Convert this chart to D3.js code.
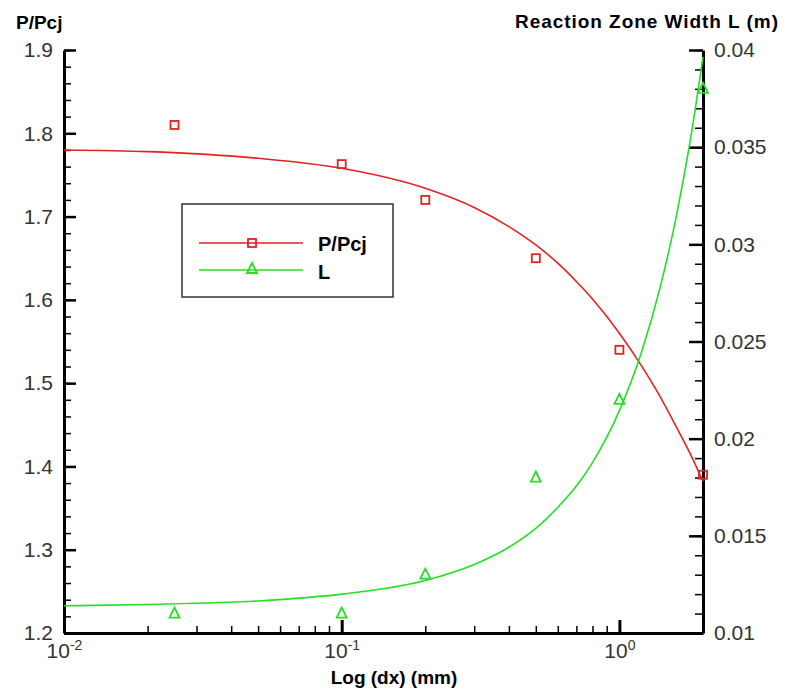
<!DOCTYPE html>
<html>
<head>
<meta charset="utf-8">
<script src="https://cdn.jsdelivr.net/npm/d3@7"></script>
<style>
  body { margin: 0; background: #fff; }
  text { font-family: "Liberation Sans", Arial, sans-serif; }
</style>
</head>
<body>
<svg id="chart" width="786" height="693"></svg>
<script>

// measured points
var dx = [0.025, 0.1, 0.2, 0.5, 1.0, 2.0]
var pRatio = [1.81, 1.763, 1.72, 1.65, 1.54, 1.39]
var zoneWidth = [0.011, 0.011, 0.013, 0.018, 0.022, 0.038]

// fitted curves
var fitDx = [0.01, 0.02, 0.05, 0.1, 0.2, 0.3, 0.4, 0.5, 0.6, 0.7, 0.8, 1.0, 1.2, 1.4, 1.6, 1.8, 2.0]
var fitP = [1.780, 1.778, 1.770, 1.758, 1.734, 1.711, 1.688, 1.666, 1.644, 1.622, 1.601, 1.560, 1.521, 1.484, 1.448, 1.415, 1.382]
var fitL = [0.0114, 0.01147, 0.01165, 0.0120, 0.0127, 0.01352, 0.01441, 0.01538, 0.01647, 0.01756, 0.01877, 0.02144, 0.02443, 0.02775, 0.03139, 0.03535, 0.03964]

var leftTicks = [1.2, 1.3, 1.4, 1.5, 1.6, 1.7, 1.8, 1.9]
var rightTicks = [0.01, 0.015, 0.02, 0.025, 0.03, 0.035, 0.04]
var xMajor = [0.01, 0.1, 1]
var xLabels = ["-2", "-1", "0"]

var RED = "#e32222"
var GREEN = "#22e022"

var svg = d3.select("#chart")

var x = d3.scaleLog().domain([0.01, 2]).range([64, 703])
var yL = d3.scaleLinear().domain([1.2, 1.9]).range([633, 50])
var yR = d3.scaleLinear().domain([0.01, 0.04]).range([633, 50])

function styleAxis(g, width) {
    g.select(".domain").attr("stroke", "#000").attr("stroke-width", width)
    g.selectAll(".tick line").attr("stroke", "#000")
    g.selectAll(".tick text")
        .attr("fill", "#333")
        .style("font-size", "21px")
        .style("font-family", "'Liberation Sans', Arial, sans-serif")
}

// minor ticks first
var leftMinor = d3.range(1.2, 1.9001, 0.02)
var rightMinor = d3.range(0.01, 0.04001, 0.001)
var xMinor = []
xMajor.forEach(function(m) {
    for (var k = 2; k <= 9; k++) {
        if (m * k <= 2.0001) xMinor.push(m * k)
    }
})

svg.append("g")
    .attr("transform", "translate(64,0)")
    .call(d3.axisLeft(yL).tickValues(leftMinor).tickSize(-7).tickSizeOuter(0).tickFormat(""))
    .call(function(g) { g.select(".domain").remove(); g.selectAll("line").attr("stroke-width", 1.5) })

svg.append("g")
    .attr("transform", "translate(703,0)")
    .call(d3.axisRight(yR).tickValues(rightMinor).tickSize(-8).tickSizeOuter(0).tickFormat(""))
    .call(function(g) { g.select(".domain").remove(); g.selectAll("line").attr("stroke-width", 1.5) })

svg.append("g")
    .attr("transform", "translate(0,633)")
    .call(d3.axisBottom(x).tickValues(xMinor).tickSize(-7).tickSizeOuter(0).tickFormat(""))
    .call(function(g) { g.select(".domain").remove(); g.selectAll("line").attr("stroke-width", 1.5) })

// major ticks + labels
svg.append("g")
    .attr("transform", "translate(64,0)")
    .call(d3.axisLeft(yL).tickValues(leftTicks).tickSize(-12).tickSizeOuter(0).tickPadding(11).tickFormat(d3.format(".1f")))
    .call(function(g) { styleAxis(g, 3); g.selectAll(".tick line").attr("stroke-width", 2.5) })

svg.append("g")
    .attr("transform", "translate(703,0)")
    .call(d3.axisRight(yR).tickValues(rightTicks).tickSize(-14).tickSizeOuter(0).tickPadding(11).tickFormat(function(d) { return d3.format("")(+d.toFixed(3)) }))
    .call(function(g) { styleAxis(g, 3); g.selectAll(".tick line").attr("stroke-width", 2.5) })

var xAxisG = svg.append("g")
    .attr("transform", "translate(0,633)")
    .call(d3.axisBottom(x).tickValues(xMajor).tickSize(-13).tickSizeOuter(0).tickFormat(""))
    .call(function(g) { styleAxis(g, 3); g.selectAll(".tick line").attr("stroke-width", 3) })

xAxisG.selectAll(".tick").each(function(d, i) {
    var t = d3.select(this).append("text")
        .attr("y", 25)
        .attr("text-anchor", "middle")
        .attr("fill", "#333")
        .style("font-size", "21px")
    t.append("tspan").text("10")
    t.append("tspan").attr("dy", -8).style("font-size", "14px").text(xLabels[i])
})

// titles
svg.append("text")
    .attr("x", 16).attr("y", 29)
    .style("font-size", "19px").style("font-weight", "bold")
    .text("P/Pcj")

svg.append("text")
    .attr("x", 515).attr("y", 28)
    .attr("textLength", 263).attr("lengthAdjust", "spacing")
    .style("font-size", "19px").style("font-weight", "bold")
    .text("Reaction Zone Width L (m)")

svg.append("text")
    .attr("x", 394).attr("y", 684)
    .attr("text-anchor", "middle")
    .style("font-size", "19px").style("font-weight", "bold")
    .text("Log (dx) (mm)")

// curves
var lineP = d3.line()
    .x(function(d, i) { return x(fitDx[i]) })
    .y(function(d) { return yL(d) })
    .curve(d3.curveMonotoneX)

var lineL = d3.line()
    .x(function(d, i) { return x(fitDx[i]) })
    .y(function(d) { return yR(d) })
    .curve(d3.curveMonotoneX)

svg.append("path").datum(fitP)
    .attr("d", lineP).attr("fill", "none").attr("stroke", RED).attr("stroke-width", 1.6)

svg.append("path").datum(fitL)
    .attr("d", lineL).attr("fill", "none").attr("stroke", GREEN).attr("stroke-width", 1.6)

// markers
function drawSquare(g, cx, cy) {
    g.append("rect")
        .attr("x", cx - 4).attr("y", cy - 4)
        .attr("width", 8).attr("height", 8)
        .attr("fill", "none").attr("stroke", RED).attr("stroke-width", 1.8)
}

function drawTriangle(g, cx, cy) {
    g.append("path")
        .attr("d", "M" + (cx - 5) + "," + (cy + 4) + "L" + cx + "," + (cy - 6) + "L" + (cx + 5) + "," + (cy + 4) + "Z")
        .attr("fill", "none").attr("stroke", GREEN).attr("stroke-width", 1.8)
}

var marks = svg.append("g")
dx.forEach(function(d, i) {
    drawSquare(marks, x(d), yL(pRatio[i]))
    drawTriangle(marks, x(d), yR(zoneWidth[i]))
})

// legend
var legend = svg.append("g")
legend.append("rect")
    .attr("x", 182).attr("y", 204).attr("width", 211).attr("height", 93)
    .attr("fill", "#fff").attr("stroke", "#333").attr("stroke-width", 1.5)

legend.append("line").attr("x1", 199).attr("x2", 303).attr("y1", 243).attr("y2", 243)
    .attr("stroke", RED).attr("stroke-width", 1.6)
drawSquare(legend, 252, 243)
legend.append("line").attr("x1", 199).attr("x2", 303).attr("y1", 270).attr("y2", 270)
    .attr("stroke", GREEN).attr("stroke-width", 1.6)
drawTriangle(legend, 252, 269)

legend.append("text").attr("x", 318).attr("y", 251)
    .style("font-size", "20px").style("font-weight", "bold").text("P/Pcj")
legend.append("text").attr("x", 318).attr("y", 279)
    .style("font-size", "20px").style("font-weight", "bold").text("L")

</script>
</body>
</html>
